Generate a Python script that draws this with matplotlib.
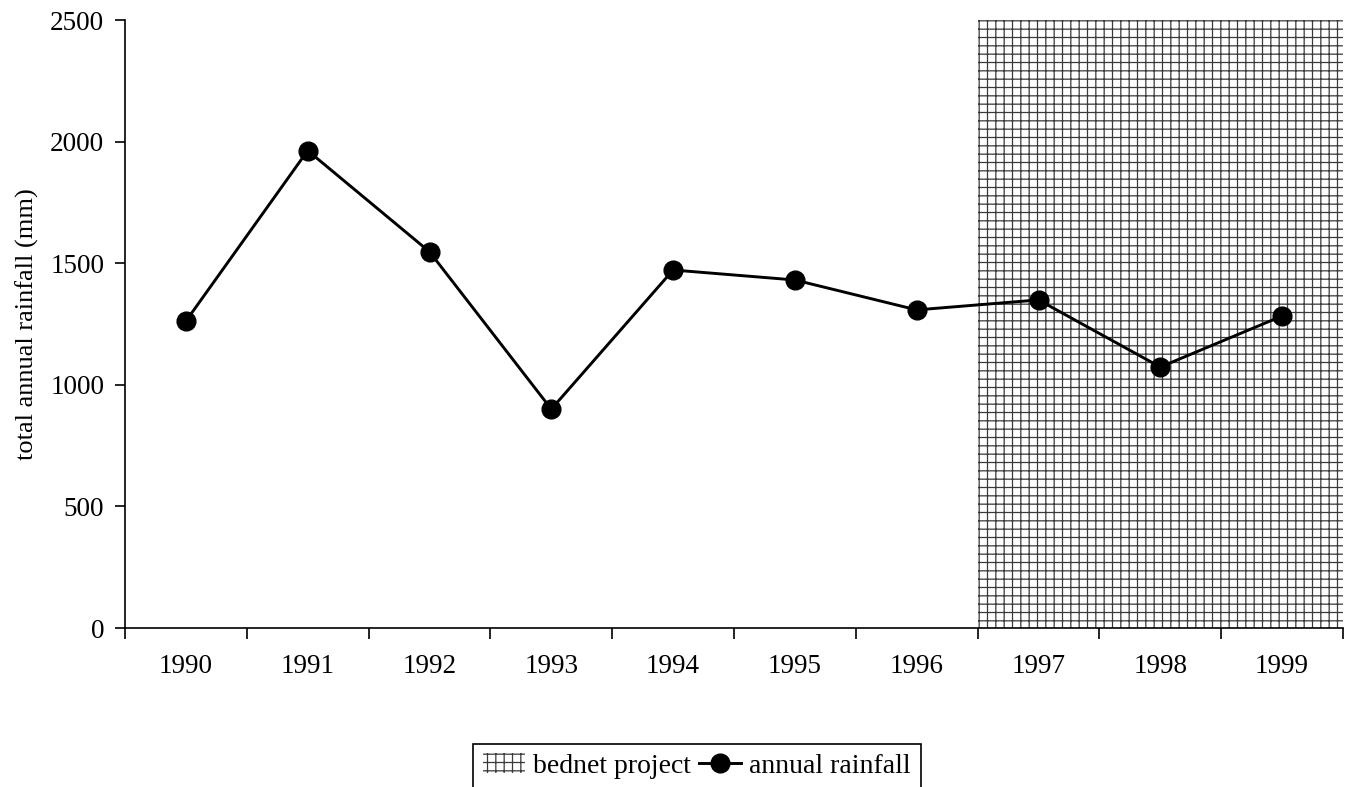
import matplotlib
matplotlib.use("Agg")
import matplotlib.pyplot as plt
from matplotlib.patches import Patch
from matplotlib.lines import Line2D

years = ["1990", "1991", "1992", "1993", "1994", "1995", "1996", "1997", "1998", "1999"]
rainfall = [1262, 1963, 1547, 900, 1472, 1431, 1308, 1349, 1073, 1283]
project_start, project_end = 6.5, 9.5

plt.rcParams['font.family'] = ['Liberation Serif', 'DejaVu Serif']
plt.rcParams['hatch.linewidth'] = 0.9

fig = plt.figure(figsize=(13.45, 7.87), dpi=100)
ax = fig.add_axes([125/1345, (787-628)/787, (1343-125)/1345, (628-20)/787])

x = list(range(len(years)))
ax.axvspan(project_start, project_end, ymin=0, ymax=1, facecolor='white',
           edgecolor='#3a3a3a', hatch='++', linewidth=0, zorder=1)
ax.plot(x, rainfall, color='black', lw=2.1, marker='o', markersize=13.5, zorder=3)

ax.set_xlim(-0.5, 9.5)
ax.set_ylim(0, 2500)
ax.set_yticks([0, 500, 1000, 1500, 2000, 2500])
ax.set_xticks([i - 0.5 for i in range(len(years) + 1)])
ax.set_xticklabels([])
ax.set_xticks(x, minor=True)
ax.set_xticklabels(years, minor=True)
ax.tick_params(axis='x', which='major', length=8, width=1.2, direction='out')
ax.tick_params(axis='x', which='minor', length=0, pad=19, labelsize=19.5)
ax.tick_params(axis='y', length=7, width=1.2, direction='out', labelsize=19.5, pad=8)
for s in ['top', 'right']:
    ax.spines[s].set_visible(False)
for s in ['left', 'bottom']:
    ax.spines[s].set_linewidth(1.2)
ax.set_ylabel("total annual rainfall (mm)", fontsize=19, labelpad=8)

handles = [Patch(facecolor='white', edgecolor='#3a3a3a', hatch='++', linewidth=0),
           Line2D([0], [0], color='black', lw=2.1, marker='o', markersize=13.5)]
leg = fig.legend(handles, ["bednet project", "annual rainfall"], loc='center',
                 bbox_to_anchor=(697/1345, 1 - 766/787), ncol=2, fontsize=20,
                 frameon=True, fancybox=False, edgecolor='black', framealpha=1,
                 handlelength=1.5, handletextpad=0.3, columnspacing=0.3,
                 borderpad=0.35, borderaxespad=0)
leg.get_frame().set_linewidth(1.2)

fig.savefig("out.png", dpi=100)
